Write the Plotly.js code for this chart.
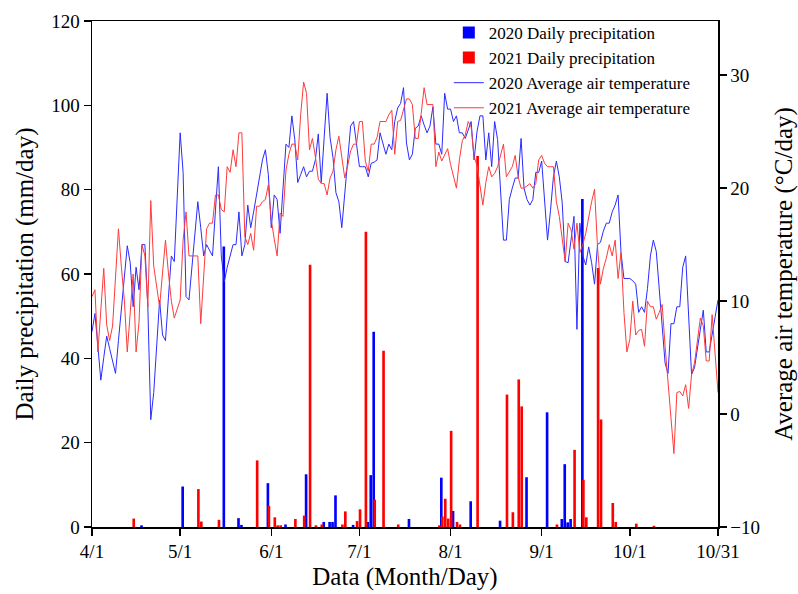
<!DOCTYPE html>
<html>
<head>
<meta charset="utf-8">
<script src="https://cdn.plot.ly/plotly-3.0.1.min.js"></script>
<style>html,body{margin:0;padding:0;background:#fff;}#chart{width:798px;height:594px;}</style>
</head>
<body>
<div id="chart"></div>
<script>
// Day index 0 = 4/1 ... 213 = 10/31
const tickDays = [0, 30, 61, 91, 122, 153, 183, 213];
const tickLabels = ['4/1', '5/1', '6/1', '7/1', '8/1', '9/1', '10/1', '10/31'];

// 2020 daily precipitation (mm/day): day index and value
const precipDays2020 = [17, 31, 45, 50, 51, 60, 66, 73, 79, 81, 82, 83, 89, 94, 95, 96, 108, 119, 123, 129, 139, 148, 155, 160, 161, 162, 163, 167];
const precip2020 = [0.4, 9.6, 66.5, 2.1, 0.5, 10.4, 0.6, 12.5, 1.2, 1.2, 1.2, 7.5, 0.5, 1.2, 12.3, 46.3, 1.9, 11.7, 3.8, 6.1, 1.5, 11.8, 27.2, 1.9, 14.9, 1.1, 1.9, 77.8];

// 2021 daily precipitation (mm/day)
const precipDays2021 = [14, 36, 37, 43, 56, 60, 62, 63, 64, 69, 72, 74, 76, 78, 85, 86, 90, 91, 93, 96, 99, 104, 118, 119, 120, 121, 122, 124, 125, 131, 141, 143, 145, 146, 158, 164, 167, 168, 172, 173, 177, 178, 185, 191];
const precip2021 = [2.0, 9.0, 1.3, 1.7, 15.8, 5.0, 2.3, 0.4, 0.4, 1.9, 2.7, 62.2, 0.4, 0.6, 0.6, 3.7, 1.4, 4.2, 70.0, 6.5, 41.8, 0.6, 0.4, 2.5, 6.7, 2.0, 22.8, 1.2, 0.6, 88.0, 31.4, 3.5, 35.0, 28.6, 0.6, 18.3, 11.2, 2.3, 61.4, 25.5, 5.7, 1.2, 0.8, 0.3];

// 2020 average air temperature (°C), one value per day from 4/1
const temp2020 = [
  7.3, 8.9, 6.0, 3.0, 5.0, 6.9, 5.8, 4.7, 3.6, 6.5,
  9.5, 12.5, 14.9, 13.4, 9.5, 13.0, 11.0, 15.0, 15.0, 9.5,
  -0.5, 1.9, 6.0, 10.1, 7.0, 6.5, 10.3, 14.0, 13.5, 19.0,
  24.9, 21.4, 10.4, 10.1, 13.0, 16.0, 18.8, 16.5, 14.0, 15.0,
  14.5, 14.0, 18.0, 21.9, 14.0, 11.7, 13.0, 14.0, 15.0, 15.0,
  17.9, 14.0, 15.0, 18.5, 16.5, 17.9, 19.5, 21.0, 22.5, 23.4,
  21.2, 16.5, 19.4, 19.0, 16.0, 20.0, 23.9, 23.6, 26.4, 24.3,
  20.5, 21.2, 21.9, 21.0, 21.5, 21.5, 22.5, 24.8, 20.5, 24.5,
  28.4, 24.5, 22.7, 19.6, 18.8, 16.5, 19.3, 22.4, 25.5, 25.9,
  24.0, 21.9, 21.9, 21.9, 21.0, 22.2, 22.3, 22.5, 24.9, 24.0,
  23.0, 23.9, 23.4, 25.9, 27.1, 27.5, 28.9, 24.0, 22.5, 23.0,
  25.3, 25.5, 26.4, 25.6, 24.9, 25.5, 27.2, 23.9, 23.9, 23.0,
  28.4, 27.0, 27.0, 25.9, 26.4, 24.9, 24.9, 24.4, 25.2, 25.9,
  22.5, 25.0, 26.4, 26.4, 22.5, 24.9, 21.9, 25.9, 24.3, 20.0,
  15.4, 15.4, 19.0, 20.0, 20.9, 20.9, 24.4, 20.0, 19.0, 18.5,
  19.0, 21.4, 21.4, 22.4, 19.1, 15.4, 18.0, 21.0, 22.4, 21.0,
  18.7, 13.5, 13.4, 15.4, 17.5, 7.5, 16.9, 14.0, 13.2, 14.8,
  13.4, 11.5, 15.0, 15.2, 16.2, 16.9, 16.9, 17.9, 18.5, 19.4,
  14.3, 12.0, 12.0, 12.0, 11.8, 11.5, 9.0, 9.5, 9.0, 11.1,
  14.0, 15.4, 14.4, 11.0, 7.8, 4.5, 3.6, 8.0, 8.0, 9.5,
  9.5, 13.0, 14.0, 8.9, 3.5, 4.1, 6.0, 7.5, 9.2, 5.5,
  5.5, 7.0, 8.5, 10.1
];

// 2021 average air temperature (°C), one value per day from 4/1
const temp2021 = [
  10.4, 11.0, 5.5, 9.0, 12.9, 7.9, 6.5, 7.8, 12.0, 16.4,
  13.0, 10.1, 5.5, 9.0, 12.4, 5.5, 8.1, 15.0, 14.0, 9.5,
  18.9, 13.1, 11.3, 9.5, 12.5, 15.4, 12.5, 10.0, 8.5, 9.3,
  10.1, 15.4, 17.9, 14.0, 14.0, 14.0, 14.0, 8.0, 12.0, 16.4,
  16.9, 16.9, 19.4, 19.4, 18.1, 17.9, 21.9, 21.4, 23.4, 21.9,
  24.9, 24.9, 15.7, 15.0, 16.0, 14.5, 18.4, 18.4, 18.8, 19.0,
  20.3, 17.2, 15.5, 14.0, 17.8, 17.5, 21.6, 23.0, 23.9, 23.9,
  22.5, 26.5, 29.4, 28.4, 23.4, 24.4, 22.8, 20.8, 20.4, 20.4,
  19.4, 20.9, 21.5, 23.4, 24.6, 22.8, 20.9, 22.0, 23.3, 23.9,
  23.9, 25.9, 25.9, 22.4, 21.5, 23.9, 23.9, 24.5, 25.9, 25.9,
  25.9, 26.5, 26.9, 23.0, 25.9, 26.0, 27.0, 27.9, 27.9, 27.4,
  24.4, 24.4, 26.6, 28.9, 27.4, 27.4, 27.4, 21.9, 23.2, 22.4,
  23.0, 23.5, 22.1, 21.0, 20.0, 22.5, 24.2, 24.7, 25.9, 25.4,
  22.8, 22.0, 20.0, 18.5, 20.5, 21.9, 21.0, 21.3, 21.9, 23.0,
  23.9, 21.0, 21.4, 21.9, 22.9, 21.0, 20.0, 20.0, 20.2, 20.4,
  20.0, 20.4, 22.5, 22.9, 22.2, 21.9, 21.9, 21.9, 18.8, 17.5,
  15.5, 13.5, 16.9, 16.3, 14.6, 16.9, 14.3, 15.0, 16.0, 17.5,
  18.8, 19.9, 14.8, 11.5, 12.9, 13.8, 15.0, 14.0, 15.4, 12.0,
  14.3, 9.0, 5.5, 6.6, 10.0, 7.0, 7.4, 7.5, 6.0, 10.0,
  9.5, 9.5, 8.4, 9.0, 9.7, 6.0, 2.6, 0.0, -3.5, 1.9,
  2.0, 1.6, 2.6, 0.5, 3.5, 4.5, 6.5, 8.5, 7.8, 4.7,
  4.7, 8.8, 5.4, 1.9
];

const days = temp2020.map((_, i) => i);

const FONT = 'Liberation Serif, Times New Roman, serif';

const traces = [
  {
    type: 'bar', name: '2020 Daily precipitation',
    x: precipDays2020, y: precip2020,
    marker: {color: '#0000FF', line: {width: 0}},
    offset: -0.6, width: 0.9, yaxis: 'y'
  },
  {
    type: 'bar', name: '2021 Daily precipitation',
    x: precipDays2021, y: precip2021,
    marker: {color: '#FF0000', line: {width: 0}},
    offset: -0.25, width: 0.9, yaxis: 'y'
  },
  {
    type: 'scatter', mode: 'lines', name: '2020 Average air temperature',
    x: days, y: temp2020,
    line: {color: '#2B2BFF', width: 1}, yaxis: 'y2'
  },
  {
    type: 'scatter', mode: 'lines', name: '2021 Average air temperature',
    x: days, y: temp2021,
    line: {color: '#FF3B3B', width: 1}, yaxis: 'y2'
  }
];

const layout = {
  width: 798, height: 594,
  margin: {l: 92, r: 80, t: 21, b: 67},
  paper_bgcolor: '#fff', plot_bgcolor: '#fff',
  font: {family: FONT, color: '#000', size: 19},
  barmode: 'overlay',
  showlegend: true,
  legend: {
    x: 0.57, y: 1.012, xanchor: 'left', yanchor: 'top',
    bgcolor: 'rgba(0,0,0,0)', borderwidth: 0,
    font: {family: FONT, size: 17, color: '#000'},
    tracegroupgap: 0, itemwidth: 30
  },
  xaxis: {
    range: [0, 213], tickmode: 'array', tickvals: tickDays, ticktext: tickLabels,
    showgrid: false, zeroline: false,
    showline: true, linecolor: '#000', linewidth: 1.5, mirror: true,
    ticks: 'outside', ticklen: 7, tickwidth: 1.5, tickcolor: '#000',
    tickfont: {family: FONT, size: 19},
    title: {text: 'Data (Month/Day)', font: {family: FONT, size: 25}, standoff: 6}
  },
  yaxis: {
    range: [0, 120], tickvals: [0, 20, 40, 60, 80, 100, 120],
    showgrid: false, zeroline: false,
    showline: true, linecolor: '#000', linewidth: 1.5,
    ticks: 'outside', ticklen: 7, tickwidth: 1.5, tickcolor: '#000',
    tickfont: {family: FONT, size: 19},
    title: {text: 'Daily precipitation (mm/day)', font: {family: FONT, size: 25}, standoff: 10}
  },
  yaxis2: {
    overlaying: 'y', side: 'right',
    range: [-10, 34.8], tickvals: [-10, 0, 10, 20, 30],
    showgrid: false, zeroline: false,
    showline: true, linecolor: '#000', linewidth: 1.5,
    ticks: 'outside', ticklen: 7, tickwidth: 1.5, tickcolor: '#000',
    tickfont: {family: FONT, size: 19},
    title: {text: 'Average air temperature (°C/day)', font: {family: FONT, size: 25}, standoff: 16}
  }
};

Plotly.newPlot('chart', traces, layout, {displayModeBar: false, staticPlot: true});
</script>
</body>
</html>
